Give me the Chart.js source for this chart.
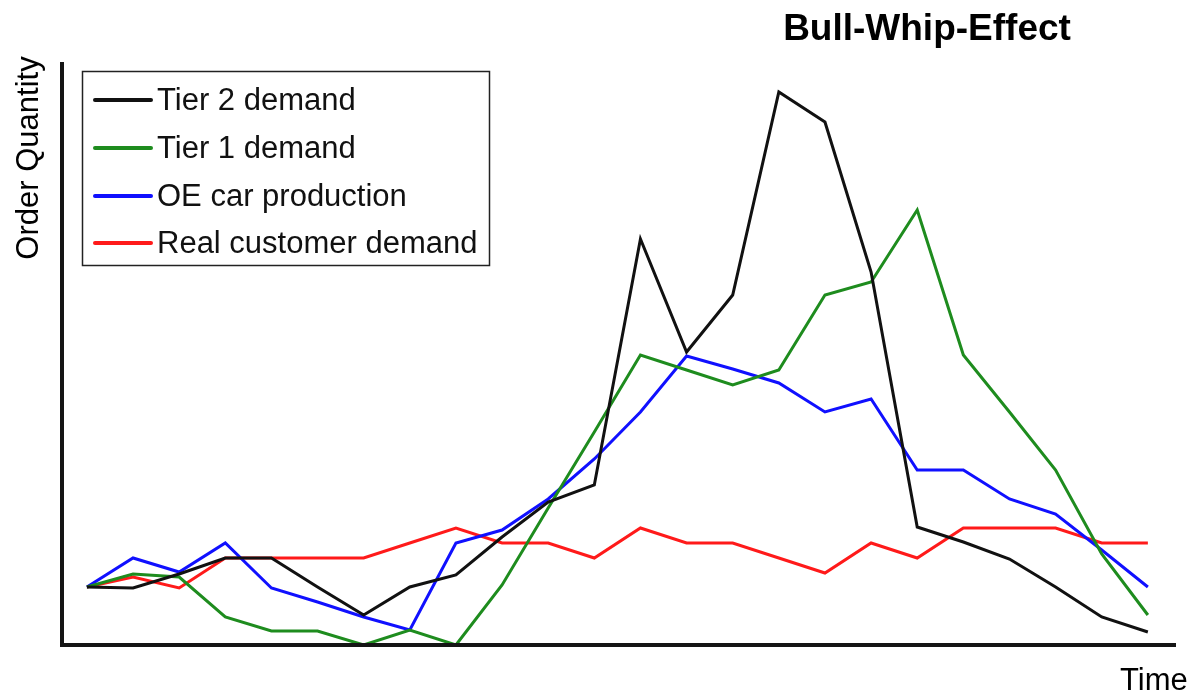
<!DOCTYPE html>
<html>
<head>
<meta charset="utf-8">
<script src="https://cdn.jsdelivr.net/npm/chart.js@4.4.1/dist/chart.umd.min.js"></script>
<style>
html,body{margin:0;padding:0;background:#fff;}
#wrap{width:1192px;height:693px;position:relative;}
</style>
</head>
<body>
<div id="wrap"><canvas id="c" width="1192" height="693"></canvas></div>
<script>
// Time steps (index) and series values (order quantity)
const timeSteps = [0,1,2,3,4,5,6,7,8,9,10,11,12,13,14,15,16,17,18,19,20,21,22,23];
const tier2Demand = [58,57,71,87,87,58,30,58,70,108,143,160,406,293,350,553,523,373,118,103,86,58,28,13];
const tier1Demand = [58,71,68,28,14,14,0,15,0,60,137,213,290,275,260,275,350,363,435,290,233,175,91,30];
const oeCarProduction = [58,87,73,102,57,43,28,15,102,115,146,186,233,289,276,262,233,246,175,175,146,131,95,58];
const realCustomerDemand = [58,68,57,87,87,87,87,102,117,102,102,87,117,102,102,87,72,102,87,117,117,117,102,102];
const seriesLabels = ["Tier 2 demand","Tier 1 demand","OE car production","Real customer demand"];
const seriesColors = ["#111111","#1e8c1e","#1010ff","#ff1a1a"];
const titleText = "Bull-Whip-Effect";
const yAxisTitle = "Order Quantity";
const xAxisTitle = "Time";

const seriesValues = [tier2Demand, tier1Demand, oeCarProduction, realCustomerDemand];
const datasets = seriesValues.map((vals, i) => ({
  label: seriesLabels[i],
  data: vals.map((v, k) => ({x: timeSteps[k], y: v})),
  borderColor: seriesColors[i],
  backgroundColor: seriesColors[i],
  borderWidth: 3,
  pointRadius: 0,
  tension: 0,
  fill: false
}));

const FONT = "'Liberation Sans', Arial, sans-serif";

const decor = {
  id: 'decor',
  afterDatasetsDraw(chart) {
    const ctx = chart.ctx;
    const a = chart.chartArea;
    ctx.save();
    // axes
    ctx.strokeStyle = '#151515';
    ctx.lineWidth = 4;
    ctx.lineCap = 'butt';
    ctx.beginPath();
    ctx.moveTo(a.left, a.top);
    ctx.lineTo(a.left, a.bottom + 2);
    ctx.moveTo(a.left - 2, a.bottom);
    ctx.lineTo(a.right, a.bottom);
    ctx.stroke();

    // title
    ctx.fillStyle = '#000';
    ctx.font = 'bold 37px ' + FONT;
    ctx.textAlign = 'center';
    ctx.textBaseline = 'alphabetic';
    ctx.fillText(titleText, 927, 40);

    // x title
    ctx.font = '31px ' + FONT;
    ctx.textAlign = 'left';
    ctx.fillText(xAxisTitle, 1120, 690);

    // y title
    ctx.save();
    ctx.translate(38, 158);
    ctx.rotate(-Math.PI / 2);
    ctx.textAlign = 'center';
    ctx.fillText(yAxisTitle, 0, 0);
    ctx.restore();

    // legend
    ctx.fillStyle = '#fff';
    ctx.fillRect(82, 71, 408, 195);
    ctx.strokeStyle = '#222';
    ctx.lineWidth = 1.5;
    ctx.strokeRect(82.5, 71.5, 407, 194);
    const ys = [100, 148, 196, 243];
    chart.data.datasets.forEach((ds, i) => {
      ctx.strokeStyle = ds.borderColor;
      ctx.lineWidth = 4;
      ctx.lineCap = 'round';
      ctx.beginPath();
      ctx.moveTo(95, ys[i]);
      ctx.lineTo(151, ys[i]);
      ctx.stroke();
      ctx.fillStyle = '#111';
      ctx.font = '31px ' + FONT;
      ctx.textAlign = 'left';
      ctx.textBaseline = 'middle';
      ctx.fillText(ds.label, 157, ys[i] + 1);
    });
    ctx.restore();
  }
};

new Chart(document.getElementById('c'), {
  type: 'line',
  data: { datasets },
  options: {
    responsive: false,
    animation: false,
    layout: { padding: { left: 62, right: 16, top: 62, bottom: 48 } },
    plugins: { legend: { display: false }, title: { display: false }, tooltip: { enabled: false } },
    scales: {
      x: { type: 'linear', min: -0.54, max: 23.61, display: false },
      y: { type: 'linear', min: 0, max: 583, display: false }
    }
  },
  plugins: [decor]
});
</script>
</body>
</html>
